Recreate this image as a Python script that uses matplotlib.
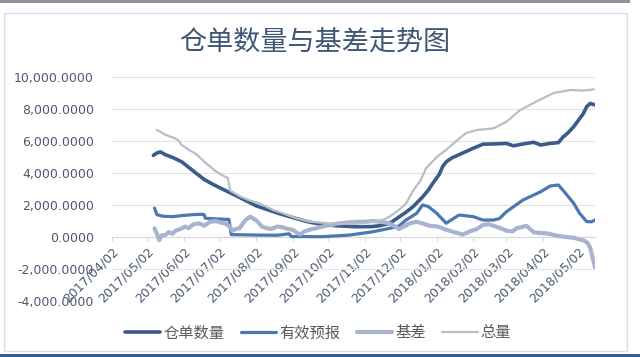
import pandas as pd
import numpy as np
import matplotlib
matplotlib.use('Agg')
from matplotlib import pyplot as plt
import matplotlib.dates as mdates
from matplotlib.patches import Rectangle
from matplotlib.ticker import FuncFormatter

plt.rcParams['font.family'] = ['DejaVu Sans', 'Noto Sans CJK SC']

# 仓单数量
cangdan_dates = ['2017-05-07', '2017-05-10', '2017-05-13', '2017-05-17', '2017-05-24', '2017-05-31',
                 '2017-06-06', '2017-06-12', '2017-06-19', '2017-06-25', '2017-07-03', '2017-07-10',
                 '2017-07-17', '2017-07-25', '2017-08-02', '2017-08-10', '2017-08-20', '2017-09-05',
                 '2017-09-15', '2017-09-27', '2017-10-10', '2017-10-26', '2017-11-08', '2017-11-14',
                 '2017-11-23', '2017-12-01', '2017-12-07', '2017-12-13', '2017-12-21', '2017-12-26',
                 '2017-12-31', '2018-01-04', '2018-01-07', '2018-01-10', '2018-01-15', '2018-01-21',
                 '2018-01-27', '2018-02-02', '2018-02-10', '2018-02-20', '2018-03-02', '2018-03-08',
                 '2018-03-15', '2018-03-25', '2018-03-31', '2018-04-08', '2018-04-15', '2018-04-19',
                 '2018-04-23', '2018-04-28', '2018-05-02', '2018-05-06', '2018-05-09', '2018-05-12',
                 '2018-05-16']
cangdan = [5100, 5250, 5320, 5150, 4950, 4700,
           4350, 4000, 3600, 3350, 3050, 2800,
           2550, 2250, 1950, 1750, 1500, 1150,
           950, 780, 700, 640, 650, 700,
           850, 1250, 1550, 1900, 2500, 2950,
           3500, 3900, 4400, 4700, 4950, 5150,
           5350, 5550, 5800, 5820, 5850, 5700,
           5800, 5920, 5750, 5850, 5900, 6250,
           6500, 6900, 7300, 7700, 8150, 8350,
           8250]

# 有效预报
yubao_dates = ['2017-05-08', '2017-05-10', '2017-05-15', '2017-05-23', '2017-06-02', '2017-06-10',
               '2017-06-17', '2017-06-19', '2017-06-20', '2017-07-08', '2017-07-10', '2017-07-12',
               '2017-08-02', '2017-08-20', '2017-08-30', '2017-09-01', '2017-09-27', '2017-10-20',
               '2017-11-09', '2017-11-23', '2017-12-01', '2017-12-07', '2017-12-16', '2017-12-21',
               '2017-12-26', '2018-01-02', '2018-01-10', '2018-01-15', '2018-01-21', '2018-02-02',
               '2018-02-10', '2018-02-19', '2018-02-24', '2018-03-02', '2018-03-16', '2018-03-31',
               '2018-04-08', '2018-04-15', '2018-04-22', '2018-04-28', '2018-05-03', '2018-05-09',
               '2018-05-13', '2018-05-16']
yubao = [1800, 1400, 1300, 1270, 1350, 1400,
         1420, 1400, 1170, 1100, 1100, 150,
         120, 110, 200, 30, 20, 120,
         330, 540, 690, 1060, 1480, 2000,
         1900, 1480, 860, 1100, 1375, 1270,
         1060, 1060, 1150, 1580, 2310, 2830,
         3190, 3250, 2650, 2100, 1480, 960,
         950, 1060]

# 基差
jicha_dates = ['2017-05-08', '2017-05-10', '2017-05-12', '2017-05-14', '2017-05-17', '2017-05-20',
               '2017-05-23', '2017-05-26', '2017-05-30', '2017-06-03', '2017-06-06', '2017-06-10',
               '2017-06-15', '2017-06-19', '2017-06-24', '2017-06-29', '2017-07-03', '2017-07-07',
               '2017-07-10', '2017-07-13', '2017-07-16', '2017-07-19', '2017-07-24', '2017-07-28',
               '2017-08-02', '2017-08-07', '2017-08-11', '2017-08-15', '2017-08-20', '2017-08-24',
               '2017-08-29', '2017-09-02', '2017-09-08', '2017-09-12', '2017-09-16', '2017-09-22',
               '2017-09-27', '2017-10-04', '2017-10-11', '2017-10-18', '2017-10-26', '2017-11-02',
               '2017-11-09', '2017-11-16', '2017-11-23', '2017-11-28', '2017-12-01', '2017-12-05',
               '2017-12-10', '2017-12-16', '2017-12-21', '2017-12-27', '2018-01-03', '2018-01-10',
               '2018-01-17', '2018-01-24', '2018-01-30', '2018-02-05', '2018-02-10', '2018-02-15',
               '2018-02-19', '2018-02-25', '2018-03-02', '2018-03-07', '2018-03-11', '2018-03-19',
               '2018-03-25', '2018-03-30', '2018-04-05', '2018-04-10', '2018-04-16', '2018-04-22',
               '2018-04-28', '2018-05-03', '2018-05-07', '2018-05-10', '2018-05-12', '2018-05-14',
               '2018-05-16']
jicha = [540, 200, -190, 100, 125, 300,
         200, 400, 500, 650, 550, 800,
         850, 700, 950, 1000, 900, 850,
         700, 400, 500, 550, 1060, 1270,
         1050, 650, 550, 500, 650, 620,
         500, 450, 150, 350, 450, 550,
         650, 750, 850, 900, 950, 950,
         1000, 950, 850, 650, 500, 650,
         850, 950, 850, 700, 650, 450,
         300, 150, 350, 500, 750, 800,
         700, 550, 400, 350, 550, 700,
         300, 250, 230, 150, 50, 0,
         -50, -150, -230, -400, -700, -1300,
         -1900]

# 总量
zongliang_dates = ['2017-05-10', '2017-05-17', '2017-05-24', '2017-05-28', '2017-05-31', '2017-06-06',
                   '2017-06-12', '2017-06-20', '2017-06-29', '2017-07-07', '2017-07-09', '2017-07-11',
                   '2017-07-19', '2017-07-27', '2017-08-05', '2017-08-16', '2017-08-24', '2017-09-05',
                   '2017-09-16', '2017-10-03', '2017-10-26', '2017-11-09', '2017-11-17', '2017-11-23',
                   '2017-12-01', '2017-12-07', '2017-12-13', '2017-12-19', '2017-12-24', '2018-01-02',
                   '2018-01-10', '2018-01-21', '2018-01-27', '2018-02-05', '2018-02-19', '2018-03-02',
                   '2018-03-13', '2018-03-28', '2018-04-11', '2018-04-25', '2018-05-06', '2018-05-15']
zongliang = [6690, 6400, 6200, 6060, 5750, 5450,
             5200, 4650, 4100, 3750, 3700, 2900,
             2550, 2300, 2100, 1700, 1500, 1170,
             960, 850, 830, 950, 1060, 1270,
             1690, 2100, 2900, 3500, 4300, 5000,
             5450, 6150, 6500, 6690, 6790, 7200,
             7900, 8500, 9000, 9190, 9150, 9230]

series_names = ['仓单数量', '有效预报', '基差', '总量']
series_colors = ['#3C5A8C', '#4A78B2', '#A9B2CE', '#B9BDC8']
series_widths = [2.6, 2.3, 3.0, 1.6]

fig = plt.figure(figsize=(6.4, 3.57), dpi=100)

# frame bits around the chart
fig.patches.append(Rectangle((0, 1 - 3 / 357), 630 / 640, 3 / 357, transform=fig.transFigure,
                             facecolor='#8C939C', edgecolor='none'))
fig.patches.append(Rectangle((4 / 640, 6 / 357), 623 / 640, 338 / 357, transform=fig.transFigure,
                             facecolor='none', edgecolor='#D9DEE6', lw=1))
fig.patches.append(Rectangle((0, 0), 1, 3 / 357, transform=fig.transFigure,
                             facecolor='#2F5F94', edgecolor='none'))

ax = fig.add_axes([112 / 640, 56 / 357, 483 / 640, 224 / 357])

all_dates = [cangdan_dates, yubao_dates, jicha_dates, zongliang_dates]
all_vals = [cangdan, yubao, jicha, zongliang]
for i in range(4):
    ax.plot(pd.to_datetime(all_dates[i]), all_vals[i], color=series_colors[i],
            lw=series_widths[i], label=series_names[i], zorder=3 + i,
            solid_capstyle='round', solid_joinstyle='round')

ax.set_xlim(pd.Timestamp('2017-04-02'), pd.Timestamp('2018-05-16'))
ax.set_ylim(-4000, 10000)
ax.set_yticks(np.arange(-4000, 10001, 2000))
ax.yaxis.set_major_formatter(FuncFormatter(lambda v, p: '{:,.4f}'.format(v)))

ax.xaxis.set_major_locator(mdates.MonthLocator(bymonthday=2))
ax.xaxis.set_major_formatter(mdates.DateFormatter('%Y/%m/%d'))

ax.spines['bottom'].set_position(('data', 0))
ax.spines['bottom'].set_color('#D9D9D9')
for s in ['top', 'right', 'left']:
    ax.spines[s].set_visible(False)

ax.yaxis.grid(True, color='#E4E4E4', lw=0.8)
ax.set_axisbelow(True)

ax.tick_params(axis='y', length=0, pad=13, labelsize=9, labelcolor='#4C5970')
ax.tick_params(axis='x', length=3, color='#D9D9D9', pad=3, labelsize=9, labelcolor='#4C5970')
for lab in ax.get_xticklabels():
    lab.set_rotation(45)
    lab.set_ha('right')
    lab.set_rotation_mode('anchor')

fig.text(315 / 640, 1 - 43 / 357, '仓单数量与基差走势图', ha='center', va='center',
         fontsize=19.5, color='#3F5675', family=['Noto Sans CJK SC'])

fig.legend(loc='center', bbox_to_anchor=(318 / 640, 1 - 333 / 357), ncol=4, frameon=False,
           fontsize=11, handlelength=2.3, handletextpad=0.2, columnspacing=1.1,
           labelcolor='#595959')

fig.savefig('out.png', dpi=100)
